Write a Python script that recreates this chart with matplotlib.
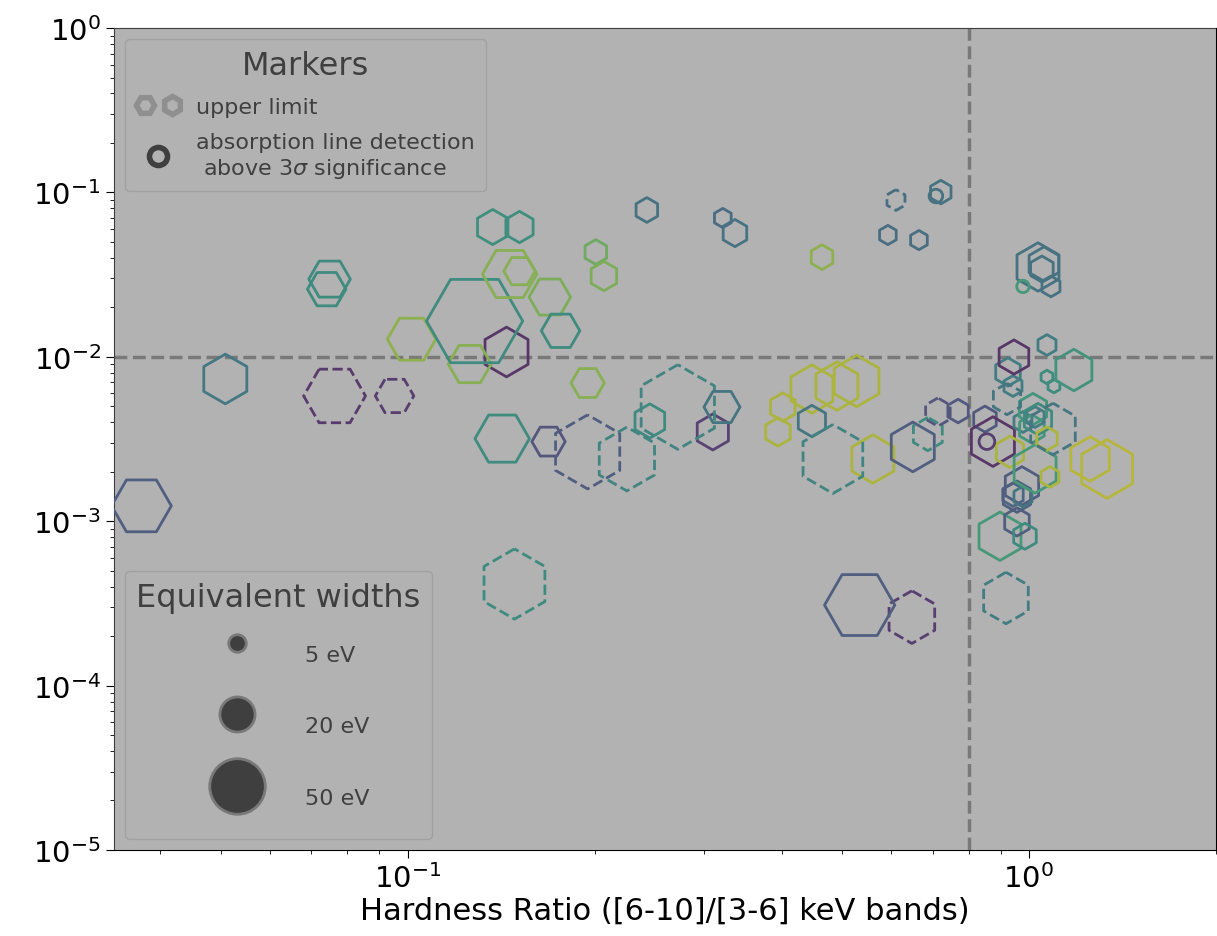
import numpy as np
import matplotlib.pyplot as plt
from matplotlib.lines import Line2D
from matplotlib.patches import Rectangle
from matplotlib.legend_handler import HandlerTuple

# hardness ratio, column value, equivalent width (eV), colour value, upper limit, marker
hr = [0.0373, 0.0509, 0.0741, 0.0749, 0.0763, 0.0953, 0.1015, 0.1259, 0.1282, 0.1371,
      0.1420, 0.1443, 0.1460, 0.1486, 0.1514, 0.1514, 0.1686, 0.1694, 0.1763, 0.1949,
      0.1949, 0.2009, 0.2070, 0.2254, 0.2427, 0.2454, 0.2722, 0.3099, 0.3206, 0.3216,
      0.3364, 0.3945, 0.4017, 0.4474, 0.4474, 0.4645, 0.4836, 0.4909, 0.5280, 0.5340,
      0.5608, 0.5929, 0.6109, 0.6480, 0.6502, 0.6652, 0.6875, 0.7083, 0.7136, 0.7213,
      0.7690, 0.8496, 0.8557, 0.8750, 0.8982, 0.9183, 0.9218, 0.9252, 0.9320, 0.9425,
      0.9425, 0.9459, 0.9565, 0.9565, 0.9744, 0.9780, 0.9780, 0.9780, 0.9853, 1.011,
      1.015, 1.023, 1.023, 1.034, 1.034, 1.049, 1.057, 1.069, 1.069, 1.069,
      1.081, 1.085, 1.093, 1.097, 1.181, 1.254, 1.336]
nh = [0.00124, 0.00733, 0.0258, 0.0297, 0.00578, 0.00578, 0.0128, 0.00904, 0.0165, 0.0616,
      0.00318, 0.0107, 0.0319, 0.000415, 0.0332, 0.0616, 0.00305, 0.0231, 0.0144, 0.00693,
      0.00264, 0.0434, 0.0310, 0.00239, 0.0782, 0.00407, 0.00495, 0.00349, 0.00495, 0.0699,
      0.0566, 0.00349, 0.00495, 0.00637, 0.00407, 0.0404, 0.00239, 0.00664, 0.00713, 0.000309,
      0.00239, 0.0551, 0.0899, 0.000261, 0.00283, 0.0513, 0.00339, 0.0951, 0.00461, 0.1005,
      0.00468, 0.00418, 0.00305, 0.00305, 0.00081, 0.000341, 0.00554, 0.00809, 0.00264, 0.00664,
      0.00145, 0.00997, 0.00141, 0.00099, 0.00164, 0.00401, 0.00141, 0.0268, 0.00081, 0.00364,
      0.00481, 0.00208, 0.00430, 0.00418, 0.0352, 0.0342, 0.0367, 0.0118, 0.00754, 0.00318,
      0.00186, 0.0268, 0.00364, 0.00664, 0.00831, 0.00239, 0.00208]
ew = [58, 40, 24, 28, 62, 24, 38, 30, 150, 20,
      48, 40, 48, 80, 16, 16, 18, 28, 24, 18,
      89, 10, 14, 66, 10, 19, 116, 21, 21, 6,
      12, 13, 13, 38, 16, 10, 77, 38, 43, 80,
      38, 6, 7, 45, 40, 6, 18, 3, 13, 9,
      9, 11, 4, 40, 38, 43, 16, 13, 16, 7,
      9, 19, 16, 13, 24, 7, 7, 2.5, 11, 13,
      16, 38, 7, 16, 38, 11, 19, 7, 3, 9,
      7, 7, 43, 3, 28, 32, 56]
cval = [0.25, 0.42, 0.55, 0.55, 0.06, 0.08, 0.86, 0.84, 0.55, 0.58,
        0.55, 0.04, 0.84, 0.55, 0.84, 0.58, 0.20, 0.82, 0.55, 0.84,
        0.25, 0.78, 0.82, 0.50, 0.38, 0.55, 0.50, 0.10, 0.40, 0.33,
        0.38, 0.93, 0.93, 0.93, 0.40, 0.86, 0.50, 0.93, 0.93, 0.25,
        0.93, 0.35, 0.35, 0.08, 0.25, 0.35, 0.55, 0.38, 0.20, 0.38,
        0.22, 0.22, 0.08, 0.04, 0.64, 0.45, 0.40, 0.45, 0.93, 0.45,
        0.30, 0.04, 0.25, 0.25, 0.25, 0.45, 0.40, 0.64, 0.55, 0.62,
        0.62, 0.64, 0.45, 0.55, 0.38, 0.38, 0.38, 0.45, 0.55, 0.93,
        0.93, 0.38, 0.40, 0.55, 0.60, 0.96, 0.96]
upper = [0, 0, 0, 0, 1, 1, 0, 0, 0, 0,
         0, 0, 0, 1, 0, 0, 0, 0, 0, 0,
         1, 0, 0, 1, 0, 0, 1, 0, 0, 0,
         0, 0, 0, 0, 0, 0, 1, 0, 0, 0,
         0, 0, 1, 1, 0, 0, 1, 0, 1, 0,
         0, 0, 0, 0, 0, 1, 1, 0, 0, 0,
         0, 0, 0, 0, 0, 0, 0, 0, 0, 0,
         0, 0, 0, 0, 0, 0, 0, 0, 0, 0,
         0, 0, 1, 0, 0, 0, 0]
shape = ['H', 'h', 'H', 'H', 'H', 'H', 'H', 'H', 'H', 'h',
         'H', 'h', 'H', 'h', 'H', 'h', 'H', 'H', 'H', 'H',
         'h', 'h', 'h', 'h', 'h', 'h', 'h', 'h', 'H', 'h',
         'h', 'h', 'h', 'h', 'h', 'h', 'h', 'h', 'h', 'H',
         'h', 'h', 'h', 'h', 'h', 'h', 'h', 'o', 'h', 'h',
         'h', 'h', 'o', 'h', 'h', 'h', 'h', 'h', 'h', 'h',
         'h', 'h', 'h', 'h', 'h', 'h', 'h', 'o', 'h', 'h',
         'h', 'h', 'h', 'h', 'h', 'h', 'h', 'h', 'h', 'h',
         'h', 'h', 'h', 'h', 'h', 'h', 'h']

ew_legend = [5, 20, 50]

hr = np.array(hr)
nh = np.array(nh)
ew = np.array(ew, dtype=float)
cval = np.array(cval)
upper = np.array(upper, dtype=bool)
shape = np.array(shape)

fig = plt.figure(figsize=(12.17, 9.37), dpi=100)
ax = fig.add_axes([0.0937, 0.0918, 0.9055, 0.8772])

# muted viridis for the hexagons
cmap = plt.get_cmap('viridis')
rgb = cmap(cval)[:, :3] * 0.6 + 45 / 255
for m in ['h', 'H', 'o']:
    for ul in [False, True]:
        sel = (shape == m) & (upper == ul)
        if not sel.any():
            continue
        ax.scatter(hr[sel], nh[sel], s=32 * ew[sel], marker=m,
                   facecolors='none', edgecolors=rgb[sel],
                   linewidths=2.0, linestyles='--' if ul else '-', zorder=11)

ax.axvline(0.8, color='grey', ls='--', lw=2.5)
ax.axhline(0.01, color='grey', ls='--', lw=2.5)

ax.set_xscale('log')
ax.set_yscale('log')
ax.set_xlim(0.0337, 2.0)
ax.set_ylim(1e-5, 1)
ax.tick_params(which='major', labelsize=21, length=6)
ax.tick_params(which='minor', length=3)
ax.set_xlabel('Hardness Ratio ([6-10]/[3-6] keV bands)', fontsize=22, labelpad=2)

# marker legend
ul_h = (Line2D([], [], marker='H', ls='', mfc='none', mec='#b0b0b0', mew=4, ms=13),
        Line2D([], [], marker='h', ls='', mfc='none', mec='#b0b0b0', mew=4, ms=13))
det_h = Line2D([], [], marker='o', ls='', mfc='none', mec='black', mew=4, ms=13)
leg1 = ax.legend([ul_h, det_h],
                 ['upper limit', 'absorption line detection\n above 3$\\sigma$ significance'],
                 handler_map={tuple: HandlerTuple(ndivide=None)},
                 loc='upper left', title='Markers', fontsize=16, title_fontsize=23,
                 borderaxespad=0.5, handletextpad=0.7, labelspacing=0.7,
                 borderpad=0.5)
ax.add_artist(leg1)

# equivalent width legend
ew_h = [Line2D([], [], marker='o', ls='', mfc='black', mec='grey', mew=2,
               ms=np.sqrt(32 * w)) for w in ew_legend]
ax.legend(ew_h, [f'{w} eV' for w in ew_legend], loc='lower left',
          title='Equivalent widths', fontsize=16, title_fontsize=23,
          labelspacing=0.5, handleheight=3.8, handlelength=4.5, handletextpad=0.8,
          borderpad=0.5, borderaxespad=0.5)

# grey veil over the plotting area
ax.add_patch(Rectangle((0, 0), 1, 1, transform=ax.transAxes,
                       color=(0.455, 0.455, 0.455), alpha=0.55, zorder=10, lw=0))

fig.savefig('out.png', dpi=100)
